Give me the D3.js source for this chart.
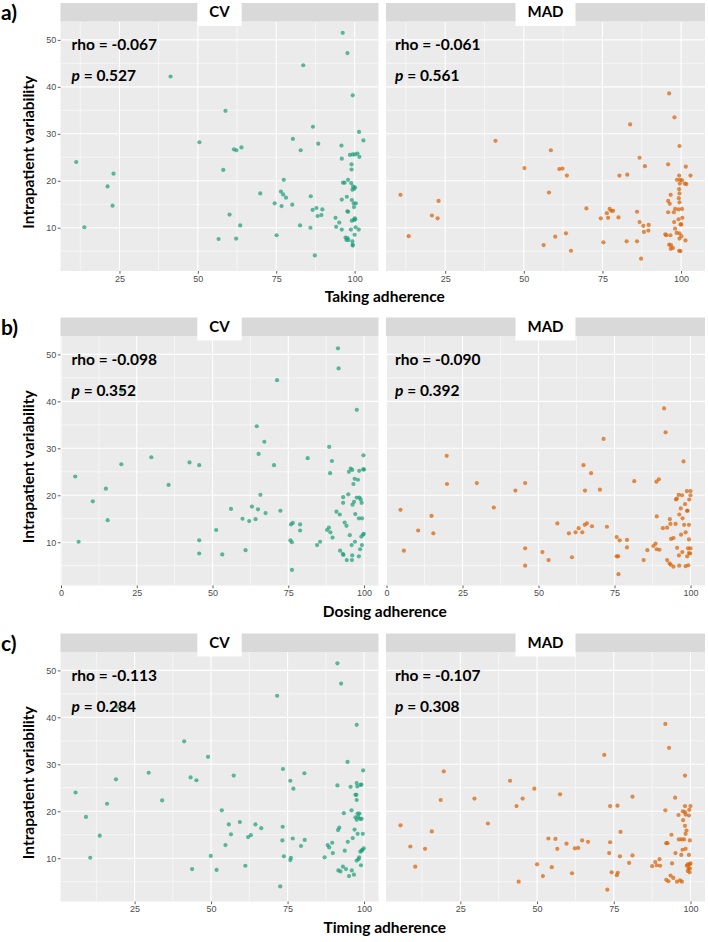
<!DOCTYPE html>
<html><head><meta charset="utf-8">
<script src="https://cdn.jsdelivr.net/npm/d3@7"></script>
<style>
html,body{margin:0;padding:0;background:#fff;}
svg{display:block;}
.tick text{font-family:"Liberation Sans",Arial,sans-serif;font-size:9px;fill:#4D4D4D;}
.tick line{stroke:#333;stroke-width:0.8;}
.bold{font-family:Lato,"Open Sans",sans-serif;font-weight:700;fill:#000;}
</style></head>
<body>
<script>
// ---------------- DATA ----------------
const rowLabels = ["a)", "b)", "c)"];
const xTitles = ["Taking adherence", "Dosing adherence", "Timing adherence"];
const facetNames = ["CV", "MAD"];
const rhoCV = ["-0.067", "-0.098", "-0.113"];
const pCV = ["0.527", "0.352", "0.284"];
const rhoMAD = ["-0.061", "-0.090", "-0.107"];
const pMAD = ["0.561", "0.392", "0.308"];
const xTicks = [0, 25, 50, 75, 100];
const yTicks = [10, 20, 30, 40, 50];
const yTitle = "Intrapatient variability";

const takingCV = [[11.2,24.0],[13.8,10.1],[21.2,18.8],[23.1,21.5],[22.8,14.7],[41.3,42.2],[50.5,28.2],[58.8,34.9],[58.1,22.3],[61.5,26.7],[62.3,26.5],[63.9,27.1],[60.1,12.8],[63.5,10.5],[56.6,7.6],[62.2,7.7],[69.9,17.3],[74.5,15.2],[76.5,17.7],[77.4,20.2],[77.2,17.1],[78.1,16.4],[76.7,14.6],[80.1,14.9],[80.3,28.9],[75.1,8.4],[83.6,44.6],[82.8,26.5],[86.7,31.5],[88.4,27.9],[86.0,16.7],[86.6,13.8],[87.8,14.2],[88.2,12.5],[89.4,12.7],[89.7,13.9],[82.6,10.5],[85.9,10.0],[87.3,4.1],[96.2,51.5],[97.7,47.2],[99.4,38.2],[101.4,30.4],[102.8,28.6],[95.8,27.5],[95.9,24.7],[98.5,25.5],[99.4,25.6],[100.1,25.6],[100.9,25.8],[101.5,25.1],[99.0,23.5],[99.0,22.4],[97.9,20.2],[96.3,19.6],[96.8,19.6],[98.9,19.5],[99.5,18.8],[99.9,18.3],[100.1,18.6],[99.3,18.1],[95.9,16.0],[97.5,16.6],[99.1,15.9],[99.7,15.2],[100.4,15.2],[99.8,14.4],[97.7,13.5],[97.9,13.4],[100.0,12.0],[100.2,11.8],[99.8,11.6],[99.1,11.5],[93.9,12.1],[95.1,11.1],[94.1,10.2],[95.9,9.6],[98.8,9.6],[100.3,10.1],[101.3,9.6],[100.0,8.5],[97.1,7.9],[97.4,7.4],[98.0,7.4],[97.7,7.8],[99.3,7.1],[99.4,6.4],[99.4,6.2]];
const takingMAD = [[10.8,17.0],[13.4,8.2],[20.8,12.6],[22.6,12.0],[22.9,15.7],[41.0,28.5],[50.2,22.7],[58.6,26.5],[58.0,17.5],[61.3,22.5],[62.3,22.6],[63.7,21.1],[60.0,8.1],[63.4,8.8],[56.3,6.3],[65.0,5.1],[69.9,14.1],[74.5,12.0],[76.8,12.1],[76.4,13.1],[77.3,14.0],[77.8,13.6],[78.4,13.6],[80.1,12.2],[75.3,6.9],[80.4,21.1],[82.9,21.3],[83.8,32.0],[86.8,24.9],[88.5,23.1],[86.0,13.4],[86.8,11.2],[88.0,10.4],[89.7,10.6],[88.2,9.1],[89.6,9.4],[82.7,7.1],[86.0,7.1],[87.3,3.4],[96.2,38.6],[97.9,33.5],[99.5,27.4],[95.9,23.5],[101.5,23.0],[103.0,21.1],[99.4,21.1],[98.7,20.2],[99.7,20.2],[100.3,20.1],[99.6,19.4],[101.2,19.4],[101.7,19.3],[99.4,18.2],[99.5,17.3],[96.7,17.0],[99.3,16.3],[99.5,15.4],[95.9,15.7],[96.4,15.1],[98.1,14.0],[99.2,13.9],[100.3,14.0],[95.9,13.3],[97.7,13.3],[100.4,12.1],[99.2,11.8],[97.8,11.2],[99.8,10.7],[100.1,10.7],[98.1,9.8],[98.6,8.9],[99.5,8.8],[100.1,8.2],[99.5,7.7],[101.4,7.3],[95.0,8.6],[95.3,8.4],[96.6,8.4],[96.2,6.4],[96.8,6.3],[97.4,5.7],[96.7,5.5],[99.4,5.1],[99.8,5.0]];
const dosingCV = [[4.7,24.0],[5.8,10.1],[10.5,18.7],[14.8,21.4],[15.4,14.7],[19.9,42.3],[19.9,26.6],[29.8,28.1],[35.5,22.2],[42.4,27.0],[45.6,26.4],[45.6,10.4],[45.6,7.6],[51.2,12.6],[53.2,7.4],[56.1,17.1],[59.9,15.0],[60.9,8.3],[62.1,14.5],[63.0,17.6],[64.2,14.9],[64.6,34.7],[65.0,17.0],[65.2,28.8],[65.8,20.1],[67.1,31.4],[67.5,16.2],[70.3,26.4],[71.3,44.5],[72.4,16.7],[75.7,10.4],[76.2,10.0],[75.9,13.8],[76.5,14.1],[76.2,4.1],[78.9,13.8],[78.9,12.5],[81.4,27.9],[84.5,9.4],[85.5,10.1],[87.8,12.6],[88.4,13.1],[88.9,12.1],[89.6,11.0],[88.5,30.3],[89.4,27.3],[88.8,24.7],[90.9,16.5],[92.0,15.9],[91.4,51.3],[91.6,47.0],[97.6,38.2],[92.1,8.2],[93.0,7.5],[93.2,7.3],[93.1,19.6],[93.1,18.4],[93.6,14.2],[94.2,13.5],[94.3,6.2],[94.8,20.2],[95.0,25.0],[95.6,25.7],[96.1,25.4],[95.3,11.5],[95.9,9.4],[96.1,7.2],[96.0,6.2],[96.5,22.4],[96.2,18.0],[96.9,23.5],[98.0,23.3],[96.7,18.6],[97.1,16.0],[97.0,10.1],[97.6,19.5],[98.3,7.0],[98.7,8.5],[98.4,25.2],[99.7,25.5],[100.0,25.5],[98.5,19.5],[98.9,19.1],[99.2,18.4],[98.3,15.1],[99.3,15.1],[99.3,9.4],[99.1,11.2],[99.7,11.6],[99.9,11.8],[99.8,28.5]];
const dosingMAD = [[4.6,16.9],[5.7,8.2],[10.4,12.5],[14.8,15.6],[15.4,11.9],[19.8,28.4],[19.9,22.4],[29.7,22.6],[35.3,17.4],[42.4,21.0],[45.6,22.6],[45.6,8.7],[45.6,5.0],[51.3,7.9],[53.3,6.2],[56.2,14.0],[60.0,11.9],[61.0,6.8],[62.2,12.1],[63.2,13.0],[64.4,12.1],[64.8,26.4],[65.2,13.7],[65.9,14.0],[65.3,21.0],[67.3,24.7],[67.6,13.4],[70.2,21.2],[71.4,32.0],[72.5,13.3],[75.7,11.1],[76.7,10.4],[75.7,7.0],[76.2,7.0],[76.3,3.2],[79.1,10.5],[79.1,8.9],[81.5,23.0],[84.6,6.2],[85.8,8.3],[87.8,9.2],[88.5,9.7],[88.9,8.5],[89.8,8.4],[88.8,22.9],[89.6,23.4],[88.9,15.5],[90.9,13.0],[92.3,13.1],[91.3,38.5],[91.8,33.4],[92.3,6.2],[93.1,5.5],[93.5,5.2],[94.4,4.8],[93.2,14.9],[93.4,13.9],[93.6,10.7],[94.4,10.9],[95.2,19.1],[95.5,19.3],[95.1,13.9],[95.6,8.8],[96.1,20.1],[96.3,15.9],[96.2,7.2],[96.3,5.0],[96.8,17.2],[97.2,20.0],[96.9,11.6],[97.4,15.1],[97.3,7.9],[97.7,27.2],[98.2,18.1],[98.4,12.1],[98.4,4.9],[97.9,13.7],[98.8,20.9],[98.9,16.7],[99.0,16.7],[98.9,7.0],[99.6,19.1],[99.5,13.7],[99.5,10.6],[100.0,20.9],[100.0,20.0],[99.2,8.7],[99.5,7.7],[100.0,8.7],[99.9,7.6],[99.3,5.1]];
const timingCV = [[5.7,24.0],[9.1,18.8],[10.5,10.1],[13.6,14.8],[16.0,21.6],[18.9,26.8],[19.3,42.3],[29.6,28.2],[34.0,22.3],[41.2,34.9],[43.3,27.2],[45.2,26.6],[43.8,7.7],[49.0,31.6],[49.9,10.5],[51.8,7.5],[53.5,20.2],[55.8,17.2],[56.5,15.1],[54.7,12.8],[57.4,27.6],[59.4,17.7],[61.2,8.4],[62.1,14.5],[63.0,14.9],[64.5,17.2],[66.4,16.4],[71.6,44.6],[72.6,4.0],[73.4,16.7],[73.3,13.8],[73.8,10.4],[73.5,29.0],[75.9,26.5],[76.9,24.8],[75.9,9.6],[76.1,10.1],[76.7,14.2],[79.4,12.6],[80.6,13.9],[80.5,28.1],[87.1,10.2],[88.1,12.8],[88.6,12.3],[89.6,13.3],[89.8,11.1],[91.3,51.5],[92.5,47.2],[91.3,25.5],[91.5,16.0],[91.9,16.5],[91.6,7.4],[92.3,7.2],[93.1,8.2],[94.1,7.7],[93.4,19.6],[93.7,11.6],[94.6,30.5],[94.7,13.5],[95.1,6.2],[95.6,25.2],[95.9,20.2],[96.0,7.4],[96.3,14.3],[96.7,6.5],[96.9,16.1],[97.2,23.5],[97.5,23.5],[97.6,38.4],[97.6,26.0],[97.8,25.3],[97.6,22.4],[97.2,18.7],[97.6,18.2],[97.9,19.5],[98.5,19.5],[98.1,18.8],[98.7,18.4],[97.9,15.2],[97.6,9.5],[98.2,9.8],[98.4,10.2],[98.8,11.4],[99.2,11.6],[98.9,25.6],[99.1,25.7],[99.0,8.5],[99.2,18.4],[99.6,15.2],[99.5,11.8],[99.9,12.1],[99.7,28.7]];
const timingMAD = [[5.5,17.0],[8.7,12.5],[10.3,8.2],[13.5,12.0],[15.7,15.7],[18.6,22.4],[19.6,28.5],[29.6,22.7],[34.0,17.4],[41.2,26.5],[43.3,21.1],[45.3,22.7],[44.0,5.0],[49.1,24.8],[50.0,8.7],[51.9,6.2],[53.7,14.2],[56.0,14.1],[56.6,12.0],[54.8,8.1],[57.5,23.6],[59.6,13.1],[61.4,6.8],[62.3,12.1],[63.4,12.2],[64.7,13.8],[66.6,13.5],[71.9,32.0],[72.9,3.3],[73.8,21.1],[73.5,11.1],[73.8,13.4],[74.3,7.0],[76.2,21.2],[77.0,10.4],[76.0,6.4],[76.3,6.9],[77.2,15.6],[80.0,9.0],[81.1,10.6],[81.1,23.1],[87.5,8.3],[88.5,9.2],[89.0,8.5],[89.9,9.8],[90.1,8.4],[91.8,38.6],[93.0,33.5],[91.8,20.2],[92.1,13.2],[92.5,13.2],[92.1,5.4],[92.8,5.1],[93.5,6.3],[94.4,5.8],[93.8,15.0],[94.0,8.9],[95.0,22.9],[95.1,11.1],[95.6,5.0],[96.6,5.3],[97.2,5.0],[96.1,19.2],[96.2,14.0],[97.1,14.0],[97.0,10.7],[97.4,11.8],[97.5,20.0],[98.2,19.8],[97.6,18.1],[98.2,16.9],[98.2,21.1],[98.2,27.6],[98.4,19.3],[99.5,19.1],[98.7,15.9],[98.4,15.2],[97.9,14.0],[98.4,12.0],[99.6,20.3],[100.0,21.1],[99.8,13.8],[99.5,10.7],[98.8,8.4],[99.1,8.7],[99.7,8.7],[100.0,8.9],[99.4,7.9],[99.8,7.8],[99.1,7.3],[99.7,7.0]];

const cvRows = [takingCV, dosingCV, timingCV];
const madRows = [takingMAD, dosingMAD, timingMAD];
const facetColors = ["#1B9E77", "#D95F02"];

// ---------------- LAYOUT ----------------
const W = 708, H = 942;
const panelX = [[60.5, 378.5], [386, 705]];
const rowTops = [3, 317.5, 633.5];
const stripH = 18.5, panelH = 249.5;

const svg = d3.select("body").append("svg").attr("width", W).attr("height", H);

const allY = cvRows.concat(madRows).flat().map(d => d[1]);
const [ymin, ymax] = d3.extent(allY);
const ypad = (ymax - ymin) * 0.05;
const yDomain = [ymin - ypad, ymax + ypad];

rowTops.forEach((top, i) => {
  const pTop = top + stripH, pBot = pTop + panelH;
  const facets = [cvRows[i], madRows[i]];
  const xs = facets.flat().map(d => d[0]);
  const [xmin, xmax] = d3.extent(xs);
  const xpad = (xmax - xmin) * 0.05;
  const xDomain = [xmin - xpad, xmax + xpad];
  const y = d3.scaleLinear().domain(yDomain).range([pBot, pTop]);
  const inY = v => v >= yDomain[0] && v <= yDomain[1];
  const inX = v => v >= xDomain[0] && v <= xDomain[1];
  const yMinor = yTicks.map(t => t - 5).concat([yTicks[yTicks.length-1] + 5]).filter(inY);
  const xMaj = xTicks.filter(inX);
  const xMinor = xTicks.map(t => t - 12.5).concat([xTicks[xTicks.length-1] + 12.5]).filter(inX);
  const stats = [[rhoCV[i], pCV[i]], [rhoMAD[i], pMAD[i]]];

  facets.forEach((pts, j) => {
    const x = d3.scaleLinear().domain(xDomain).range(panelX[j]);
    const g = svg.append("g");
    const [x0, x1] = panelX[j];
    g.append("rect").attr("x", x0).attr("y", pTop).attr("width", x1 - x0).attr("height", panelH).attr("fill", "#EBEBEB");
    // minor grid
    g.selectAll(".ymn").data(yMinor).join("line")
      .attr("x1", x0).attr("x2", x1).attr("y1", d => y(d)).attr("y2", d => y(d))
      .attr("stroke", "#fff").attr("stroke-width", 0.55);
    g.selectAll(".xmn").data(xMinor).join("line")
      .attr("y1", pTop).attr("y2", pBot).attr("x1", d => x(d)).attr("x2", d => x(d))
      .attr("stroke", "#fff").attr("stroke-width", 0.55);
    // major grid
    g.selectAll(".ymj").data(yTicks.filter(inY)).join("line")
      .attr("x1", x0).attr("x2", x1).attr("y1", d => y(d)).attr("y2", d => y(d))
      .attr("stroke", "#fff").attr("stroke-width", 1.1);
    g.selectAll(".xmj").data(xMaj).join("line")
      .attr("y1", pTop).attr("y2", pBot).attr("x1", d => x(d)).attr("x2", d => x(d))
      .attr("stroke", "#fff").attr("stroke-width", 1.1);
    // points
    g.selectAll("circle").data(pts).join("circle")
      .attr("cx", d => x(d[0])).attr("cy", d => y(d[1])).attr("r", 2.1)
      .attr("fill", facetColors[j]).attr("fill-opacity", 0.7);
    // strip
    g.append("rect").attr("x", x0).attr("y", top).attr("width", x1 - x0).attr("height", stripH).attr("fill", "#D9D9D9");
    const cx = (x0 + x1) / 2;
    const lbl = g.append("text").attr("class", "bold").attr("x", cx).attr("y", top + 14)
      .attr("text-anchor", "middle").attr("font-size", 15).text(facetNames[j]);
    const tw = lbl.node().getComputedTextLength();
    g.insert("rect", "text").attr("x", cx - tw / 2 - 12).attr("y", top - 3)
      .attr("width", tw + 24).attr("height", stripH + 7.5).attr("fill", "#fff");
    // annotations
    const ax = x0 + (j === 0 ? 11 : 9);
    g.append("text").attr("class", "bold").attr("x", ax).attr("y", pTop + 28.5)
      .attr("font-size", 15.5).text("rho = " + stats[j][0]);
    const pt = g.append("text").attr("class", "bold").attr("x", ax).attr("y", pTop + 59.5).attr("font-size", 15.5);
    pt.append("tspan").attr("font-style", "italic").text("p");
    pt.append("tspan").text(" = " + stats[j][1]);
    // x axis
    const xa = svg.append("g").attr("transform", `translate(0,${pBot})`)
      .call(d3.axisBottom(x).tickValues(xMaj).tickSize(2.7).tickPadding(1.5).tickFormat(d3.format("d")));
    xa.select(".domain").remove();
  });

  // y axis
  const ya = svg.append("g").attr("transform", `translate(${panelX[0][0]},0)`)
    .call(d3.axisLeft(y).tickValues(yTicks).tickSize(2.7).tickPadding(1.5));
  ya.select(".domain").remove();

  // titles
  svg.append("text").attr("class", "bold").attr("font-size", 15.5)
    .attr("text-anchor", "middle")
    .attr("transform", `translate(34,${(pTop + pBot) / 2 + 6}) rotate(-90)`)
    .text(yTitle);
  svg.append("text").attr("class", "bold").attr("font-size", 15.5)
    .attr("text-anchor", "middle").attr("x", (panelX[0][0] + panelX[1][1]) / 2 + 2).attr("y", pBot + 31)
    .text(xTitles[i]);
  svg.append("text").attr("class", "bold").attr("font-size", 21)
    .attr("x", 1).attr("y", top + 17).text(rowLabels[i]);
});
</script>
</body></html>
